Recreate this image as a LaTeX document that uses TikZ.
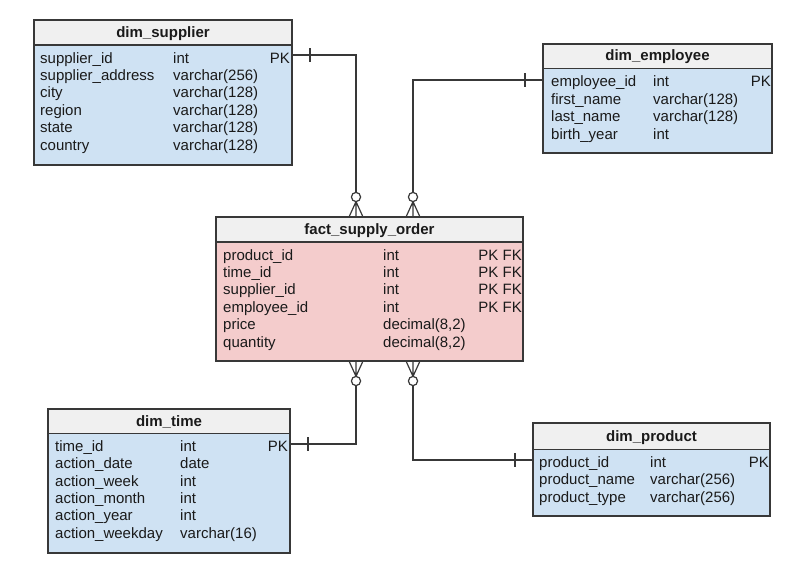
\documentclass[tikz,border=0pt]{standalone}
\usepackage{fontspec}
\setmainfont{Liberation Sans}
\usetikzlibrary{calc}
\definecolor{hdr}{HTML}{F0F0F0}
\definecolor{blu}{HTML}{CFE2F3}
\definecolor{pnk}{HTML}{F4CCCC}
\definecolor{edge}{HTML}{383838}
\definecolor{txt}{HTML}{1A1A1A}
\begin{document}
\begin{tikzpicture}[x=1pt,y=-1pt,
  font=\fontsize{15}{18}\selectfont,
  box/.style={draw=edge, line width=1.3pt, anchor=north west, inner sep=0pt, outer sep=0pt},
  hd/.style={font=\fontsize{15}{18}\selectfont\bfseries, anchor=base, inner sep=0pt, text=txt},
  fld/.style={anchor=base west, inner sep=0pt, text=txt},
  key/.style={anchor=base east, inner sep=0pt, text=txt},
  rel/.style={draw=edge, line width=1.2pt},
  zeromany/.pic={
    \draw[rel, fill=white] (0,-20) circle (4.6pt);
    \draw[rel] (0,-15.4) -- (-7,0) (0,-15.4) -- (7,0) (0,-15.4) -- (0,0);
  }
]
\useasboundingbox (0,0) rectangle (790,568);

% ---------- dim_supplier ----------
\node[box, fill=blu, minimum width=258pt, minimum height=145pt] (sup) at (34,20) {};
\node[box, fill=hdr, minimum width=258pt, minimum height=25pt] (supH) at (34,20) {};
\node[hd] (supT) at (163,37.7) {dim\_supplier};
\node[fld] (s1a) at (40,63.0) {supplier\_id};
\node[fld] (s1b) at (173,63.0) {int};
\node[key] (s1c) at (290,63.0) {PK};
\node[fld] (s2a) at (40,80.5) {supplier\_address};
\node[fld] (s2b) at (173,80.5) {varchar(256)};
\node[fld] (s3a) at (40,97.9) {city};
\node[fld] (s3b) at (173,97.9) {varchar(128)};
\node[fld] (s4a) at (40,115.4) {region};
\node[fld] (s4b) at (173,115.4) {varchar(128)};
\node[fld] (s5a) at (40,132.9) {state};
\node[fld] (s5b) at (173,132.9) {varchar(128)};
\node[fld] (s6a) at (40,150.3) {country};
\node[fld] (s6b) at (173,150.3) {varchar(128)};

% ---------- dim_employee ----------
\node[box, fill=blu, minimum width=229pt, minimum height=109pt] (emp) at (543,44) {};
\node[box, fill=hdr, minimum width=229pt, minimum height=24.5pt] (empH) at (543,44) {};
\node[hd] (empT) at (657.5,60.7) {dim\_employee};
\node[fld] (e1a) at (551,86.5) {employee\_id};
\node[fld] (e1b) at (653,86.5) {int};
\node[key] (e1c) at (771,86.5) {PK};
\node[fld] (e2a) at (551,104.0) {first\_name};
\node[fld] (e2b) at (653,104.0) {varchar(128)};
\node[fld] (e3a) at (551,121.5) {last\_name};
\node[fld] (e3b) at (653,121.5) {varchar(128)};
\node[fld] (e4a) at (551,139.0) {birth\_year};
\node[fld] (e4b) at (653,139.0) {int};

% ---------- fact_supply_order ----------
\node[box, fill=pnk, minimum width=307pt, minimum height=144pt] (fact) at (216,217) {};
\node[box, fill=hdr, minimum width=307pt, minimum height=25pt] (factH) at (216,217) {};
\node[hd] (factT) at (369.5,234) {fact\_supply\_order};
\node[fld] (f1a) at (223,260.0) {product\_id};
\node[fld] (f1b) at (383,260.0) {int};
\node[key] (f1c) at (522,260.0) {PK FK};
\node[fld] (f2a) at (223,277.4) {time\_id};
\node[fld] (f2b) at (383,277.4) {int};
\node[key] (f2c) at (522,277.4) {PK FK};
\node[fld] (f3a) at (223,294.8) {supplier\_id};
\node[fld] (f3b) at (383,294.8) {int};
\node[key] (f3c) at (522,294.8) {PK FK};
\node[fld] (f4a) at (223,312.2) {employee\_id};
\node[fld] (f4b) at (383,312.2) {int};
\node[key] (f4c) at (522,312.2) {PK FK};
\node[fld] (f5a) at (223,329.6) {price};
\node[fld] (f5b) at (383,329.6) {decimal(8,2)};
\node[fld] (f6a) at (223,347.0) {quantity};
\node[fld] (f6b) at (383,347.0) {decimal(8,2)};

% ---------- dim_time ----------
\node[box, fill=blu, minimum width=242pt, minimum height=144pt] (time) at (48,409) {};
\node[box, fill=hdr, minimum width=242pt, minimum height=24.5pt] (timeH) at (48,409) {};
\node[hd] (timeT) at (169,426.7) {dim\_time};
\node[fld] (t1a) at (55,451.5) {time\_id};
\node[fld] (t1b) at (180,451.5) {int};
\node[key] (t1c) at (288,451.5) {PK};
\node[fld] (t2a) at (55,468.8) {action\_date};
\node[fld] (t2b) at (180,468.8) {date};
\node[fld] (t3a) at (55,486.1) {action\_week};
\node[fld] (t3b) at (180,486.1) {int};
\node[fld] (t4a) at (55,503.4) {action\_month};
\node[fld] (t4b) at (180,503.4) {int};
\node[fld] (t5a) at (55,520.7) {action\_year};
\node[fld] (t5b) at (180,520.7) {int};
\node[fld] (t6a) at (55,538.0) {action\_weekday};
\node[fld] (t6b) at (180,538.0) {varchar(16)};

% ---------- dim_product ----------
\node[box, fill=blu, minimum width=237pt, minimum height=93pt] (prod) at (533,423) {};
\node[box, fill=hdr, minimum width=237pt, minimum height=26.5pt] (prodH) at (533,423) {};
\node[hd] (prodT) at (651.5,441.7) {dim\_product};
\node[fld] (p1a) at (539,467.5) {product\_id};
\node[fld] (p1b) at (650,467.5) {int};
\node[key] (p1c) at (769,467.5) {PK};
\node[fld] (p2a) at (539,484.8) {product\_name};
\node[fld] (p2b) at (650,484.8) {varchar(256)};
\node[fld] (p3a) at (539,502.1) {product\_type};
\node[fld] (p3b) at (650,502.1) {varchar(256)};

% ---------- connectors ----------
\coordinate (sPK) at ($(sup.north east)+(0,35)$);
\coordinate (ePK) at ($(emp.north west)+(0,36)$);
\coordinate (tPK) at ($(time.north east)+(0,35)$);
\coordinate (pPK) at ($(prod.north west)+(0,37)$);
\coordinate (fTS) at ($(fact.north west)+(140,0)$);
\coordinate (fTE) at ($(fact.north west)+(197,0)$);
\coordinate (fBT) at ($(fact.south west)+(140,0)$);
\coordinate (fBP) at ($(fact.south west)+(197,0)$);

\draw[rel] (sPK) -| ($(fTS)+(0,-24.6)$);
\draw[rel] ($(sPK)+(18,-7)$) -- ($(sPK)+(18,7)$);
\pic at (fTS) {zeromany};

\draw[rel] (ePK) -| ($(fTE)+(0,-24.6)$);
\draw[rel] ($(ePK)+(-18,-7)$) -- ($(ePK)+(-18,7)$);
\pic at (fTE) {zeromany};

\draw[rel] (tPK) -| ($(fBT)+(0,24.6)$);
\draw[rel] ($(tPK)+(18,-7)$) -- ($(tPK)+(18,7)$);
\pic[rotate=180] at (fBT) {zeromany};

\draw[rel] (pPK) -| ($(fBP)+(0,24.6)$);
\draw[rel] ($(pPK)+(-18,-7)$) -- ($(pPK)+(-18,7)$);
\pic[rotate=180] at (fBP) {zeromany};
\end{tikzpicture}
\end{document}
